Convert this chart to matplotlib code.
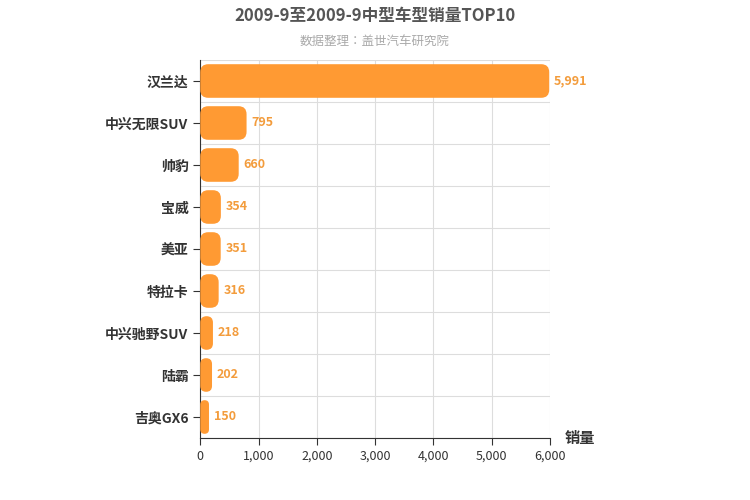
import matplotlib
matplotlib.use("Agg")
import matplotlib.pyplot as plt
from matplotlib import font_manager
from matplotlib.patches import FancyBboxPatch

# find a CJK font file and register it
cjk_name = None
for f in font_manager.findSystemFonts():
    if 'CJK' in f or 'cjk' in f.lower():
        try:
            font_manager.fontManager.addfont(f)
            cjk_name = font_manager.FontProperties(fname=f).get_name()
            if 'SC' in cjk_name:
                break
        except Exception:
            pass
plt.rcParams['font.family'] = [n for n in [cjk_name, 'Noto Sans CJK SC', 'DejaVu Sans'] if n]

models = ['汉兰达', '中兴无限SUV', '帅豹', '宝威', '美亚', '特拉卡', '中兴驰野SUV', '陆霸', '吉奥GX6']
sales = [5991, 795, 660, 354, 351, 316, 218, 202, 150]
xticks = [0, 1000, 2000, 3000, 4000, 5000, 6000]

fig = plt.figure(figsize=(7.5, 5), dpi=100)
ax = fig.add_axes([0.267, 0.124, 0.466, 0.756])
ax.set_xlim(0, 6000)
ax.set_ylim(len(models) - 0.5, -0.5)

bars = ax.barh(range(len(models)), sales, height=0.8, color='none')
# px -> data conversion for rounded corners
xpp = 6000 / 350.0
ypp = 9 / 378.0
for b in bars:
    x, y = b.get_x(), b.get_y()
    w, h = b.get_width(), b.get_height()
    r = min(8 * xpp, w / 2)
    p = FancyBboxPatch((x, y), w, h, boxstyle='round,pad=0,rounding_size=%f' % r,
                       mutation_aspect=ypp / xpp, facecolor='#FF9A33', edgecolor='none', zorder=3)
    ax.add_patch(p)
    b.remove()

for i, v in enumerate(sales):
    ax.text(v + 80, i, f'{v:,}', va='center', ha='left', fontsize=9,
            color='#F39C3C', fontweight='bold', zorder=4)

ax.set_yticks(range(len(models)))
ax.set_yticklabels(models, fontsize=10, color='#333333', fontweight='bold')
ax.set_xticks(xticks)
ax.set_xticklabels([f'{t:,}' for t in xticks], fontsize=9, color='#333333')
ax.grid(axis='x', color='#DDDDDD', linewidth=0.8, zorder=0)
for k in range(len(models) + 1):
    ax.axhline(k - 0.5, color='#DDDDDD', linewidth=0.8, zorder=0)
for s in ['top', 'right']:
    ax.spines[s].set_visible(False)
ax.spines['left'].set_color('#333333')
ax.spines['bottom'].set_color('#333333')
ax.tick_params(axis='y', length=5, color='#333333')
ax.tick_params(axis='x', length=5, color='#333333')

fig.text(0.5, 0.968, '2009-9至2009-9中型车型销量TOP10', ha='center', va='center',
         fontsize=12, fontweight='bold', color='#555555')
fig.text(0.5, 0.918, '数据整理：盖世汽车研究院', ha='center', va='center',
         fontsize=9, color='#AAAAAA')
fig.text(0.773, 0.124, '销量', ha='center', va='center', fontsize=11,
         fontweight='bold', color='#333333')

fig.savefig('out.png', dpi=100)
